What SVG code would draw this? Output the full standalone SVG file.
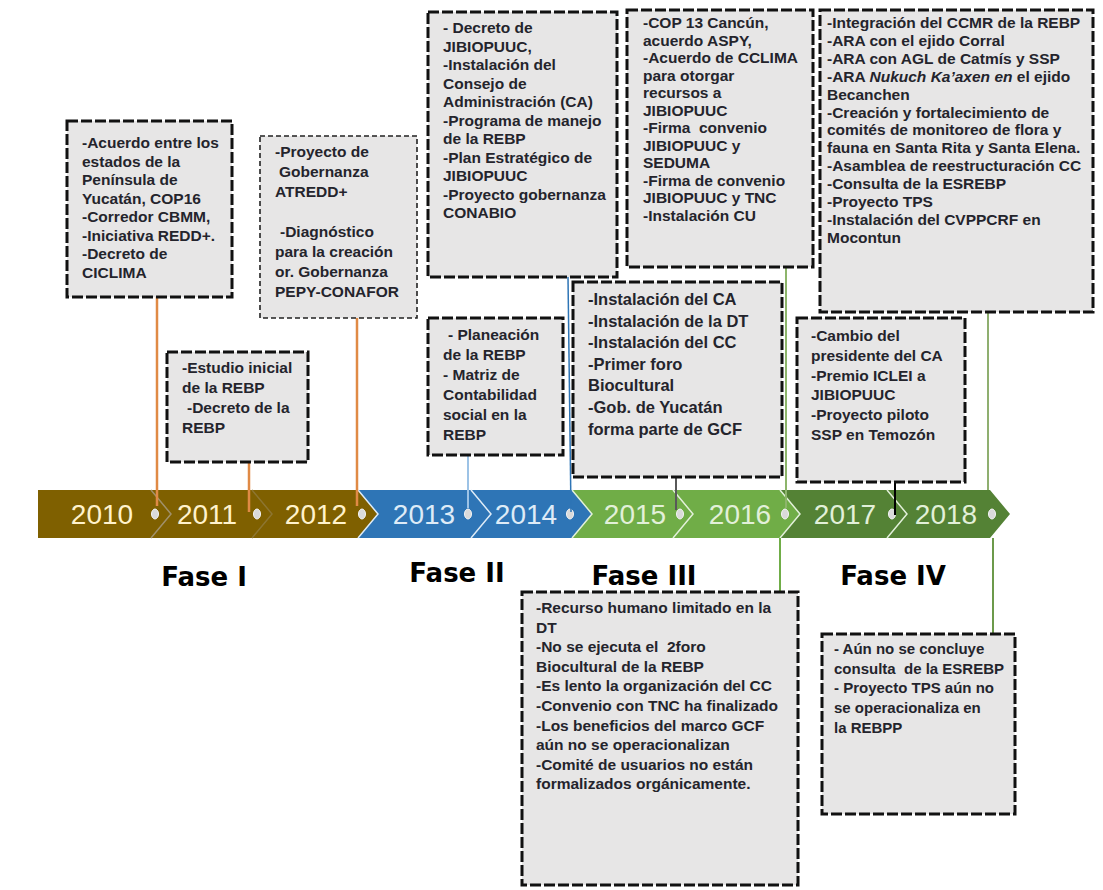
<svg xmlns="http://www.w3.org/2000/svg" width="1103" height="890" viewBox="0 0 1103 890">
<style>
.bx{fill:#E7E6E6;stroke:#111;stroke-width:3;stroke-dasharray:11 3}
.bx2{fill:#E7E6E6;stroke:#222;stroke-width:1.6;stroke-dasharray:5 3}
.t{font-family:"Liberation Sans",Arial,sans-serif;font-weight:bold;font-size:15.5px;fill:#24242c}
.yr{font-family:"Liberation Sans",Arial,sans-serif;font-size:28px;text-anchor:middle}
.fase{font-family:"DejaVu Sans",Verdana,sans-serif;font-weight:bold;font-size:26px;fill:#000;text-anchor:middle}
.dot{fill:#DADADA;stroke:#F5F5F5;stroke-width:1}
.sep{fill:none;stroke-width:1.5}
</style>
<rect width="1103" height="890" fill="#fff"/>

<g id="timeline">
  <polygon points="38,490 151,490 171,514 151,538 38,538" fill="#7F6000"/>
  <polygon points="151,490 252,490 272,514 252,538 151,538 171,514" fill="#7F6000"/>
  <polygon points="252,490 358,490 378,514 358,538 252,538 272,514" fill="#7F6000"/>
  <polygon points="358,490 471,490 491,514 471,538 358,538 378,514" fill="#2E75B6"/>
  <polygon points="471,490 572,490 592,514 572,538 471,538 491,514" fill="#2E75B6"/>
  <polygon points="572,490 673,490 693,514 673,538 572,538 592,514" fill="#70AD47"/>
  <polygon points="673,490 780,490 800,514 780,538 673,538 693,514" fill="#70AD47"/>
  <polygon points="780,490 887,490 907,514 887,538 780,538 800,514" fill="#548235"/>
  <polygon points="887,490 990,490 1010,514 990,538 887,538 907,514" fill="#548235"/>
  <polyline class="sep" points="151,490 171,514 151,538" stroke="#A0906A"/>
  <polyline class="sep" points="252,490 272,514 252,538" stroke="#8C7530"/>
  <polyline class="sep" points="358,490 378,514 358,538" stroke="#DDEBF7"/>
  <polyline class="sep" points="471,490 491,514 471,538" stroke="#DDEBF7"/>
  <polyline class="sep" points="572,490 592,514 572,538" stroke="#E2F0D9"/>
  <polyline class="sep" points="673,490 693,514 673,538" stroke="#E2F0D9"/>
  <polyline class="sep" points="780,490 800,514 780,538" stroke="#E2F0D9"/>
  <polyline class="sep" points="887,490 907,514 887,538" stroke="#E2F0D9"/>
  <text class="yr" x="102" y="524" fill="#FFF2CC">2010</text>
  <text class="yr" x="207" y="524" fill="#FFF2CC">2011</text>
  <text class="yr" x="316" y="524" fill="#FFF2CC">2012</text>
  <text class="yr" x="424" y="524" fill="#DEEBF7">2013</text>
  <text class="yr" x="526" y="524" fill="#DEEBF7">2014</text>
  <text class="yr" x="635" y="524" fill="#E2F0D9">2015</text>
  <text class="yr" x="740" y="524" fill="#E2F0D9">2016</text>
  <text class="yr" x="845" y="524" fill="#E2F0D9">2017</text>
  <text class="yr" x="946" y="524" fill="#E2F0D9">2018</text>
  <ellipse class="dot" cx="155" cy="514" rx="3.5" ry="5"/>
  <ellipse class="dot" cx="257" cy="514" rx="3.5" ry="5"/>
  <ellipse class="dot" cx="362" cy="514" rx="3.5" ry="5"/>
  <ellipse class="dot" cx="468" cy="514" rx="3.5" ry="5"/>
  <ellipse class="dot" cx="570" cy="514" rx="3.5" ry="5"/>
  <ellipse class="dot" cx="680" cy="514" rx="3.5" ry="5"/>
  <ellipse class="dot" cx="785" cy="514" rx="3.5" ry="5"/>
  <ellipse class="dot" cx="892" cy="514" rx="3.5" ry="5"/>
  <ellipse class="dot" cx="992" cy="514" rx="3.5" ry="5"/>
</g>

<g id="phases">
  <text class="fase" x="204" y="586">Fase I</text>
  <text class="fase" x="457" y="582">Fase II</text>
  <text class="fase" x="644" y="585">Fase III</text>
  <text class="fase" x="893" y="585">Fase IV</text>
</g>

<g id="connectors" fill="none">
  <line x1="157" y1="297" x2="157" y2="506" stroke="#E08A45" stroke-width="2.5"/>
  <line x1="249" y1="462" x2="249" y2="512" stroke="#E08A45" stroke-width="2.5"/>
  <line x1="357" y1="318" x2="357" y2="506" stroke="#E08A45" stroke-width="2.5"/>
  <line x1="468" y1="455" x2="468" y2="508" stroke="#9DC3E6" stroke-width="2"/>
  <line x1="568" y1="277" x2="571" y2="512" stroke="#2E75B6" stroke-width="1.5"/>
  <line x1="676" y1="477" x2="676" y2="510" stroke="#595959" stroke-width="2"/>
  <line x1="786" y1="267" x2="786" y2="508" stroke="#8DB56B" stroke-width="2"/>
  <line x1="780" y1="538" x2="780" y2="592" stroke="#70AD47" stroke-width="2"/>
  <line x1="895" y1="482" x2="895" y2="515" stroke="#000" stroke-width="2"/>
  <line x1="988" y1="312" x2="988" y2="490" stroke="#8FAF70" stroke-width="2"/>
  <line x1="993" y1="538" x2="993" y2="634" stroke="#6C9A4B" stroke-width="2"/>
</g>

<g id="box2010">
  <rect class="bx" x="67" y="121" width="165" height="176"/>
  <text class="t">
    <tspan x="82" y="148">-Acuerdo entre los</tspan>
    <tspan x="82" dy="18.5">estados de la</tspan>
    <tspan x="82" dy="18.5">Península de</tspan>
    <tspan x="82" dy="18.5">Yucatán, COP16</tspan>
    <tspan x="82" dy="18.5">-Corredor CBMM,</tspan>
    <tspan x="82" dy="18.5">-Iniciativa REDD+.</tspan>
    <tspan x="82" dy="18.5">-Decreto de</tspan>
    <tspan x="82" dy="18.5">CICLIMA</tspan>
  </text>
</g>

<g id="box2011">
  <rect class="bx" x="167" y="352" width="141" height="110"/>
  <text class="t">
    <tspan x="182" y="373">-Estudio inicial</tspan>
    <tspan x="182" dy="20">de la REBP</tspan>
    <tspan x="187" dy="20">-Decreto de la</tspan>
    <tspan x="182" dy="20">REBP</tspan>
  </text>
</g>

<g id="box2012">
  <rect class="bx2" x="260" y="136" width="157" height="182"/>
  <text class="t">
    <tspan x="275" y="157">-Proyecto de</tspan>
    <tspan x="279" dy="20">Gobernanza</tspan>
    <tspan x="275" dy="20">ATREDD+</tspan>
    <tspan x="280" dy="40">-Diagnóstico</tspan>
    <tspan x="275" dy="20">para la creación</tspan>
    <tspan x="275" dy="20">or. Gobernanza</tspan>
    <tspan x="275" dy="20">PEPY-CONAFOR</tspan>
  </text>
</g>

<g id="box2013">
  <rect class="bx" x="428" y="318" width="135" height="137"/>
  <text class="t">
    <tspan x="448" y="340">- Planeación</tspan>
    <tspan x="443" dy="20">de la REBP</tspan>
    <tspan x="443" dy="20">- Matriz de</tspan>
    <tspan x="443" dy="20">Contabilidad</tspan>
    <tspan x="443" dy="20">social en la</tspan>
    <tspan x="443" dy="20">REBP</tspan>
  </text>
</g>

<g id="box2014">
  <rect class="bx" x="428" y="12" width="189" height="265"/>
  <text class="t">
    <tspan x="443" y="33">- Decreto de</tspan>
    <tspan x="443" dy="18.5">JIBIOPUUC,</tspan>
    <tspan x="443" dy="18.5">-Instalación del</tspan>
    <tspan x="443" dy="18.5">Consejo de</tspan>
    <tspan x="443" dy="18.5">Administración (CA)</tspan>
    <tspan x="443" dy="18.5">-Programa de manejo</tspan>
    <tspan x="443" dy="18.5">de la REBP</tspan>
    <tspan x="443" dy="18.5">-Plan Estratégico de</tspan>
    <tspan x="443" dy="18.5">JIBIOPUUC</tspan>
    <tspan x="443" dy="18.5">-Proyecto gobernanza</tspan>
    <tspan x="443" dy="18.5">CONABIO</tspan>
  </text>
</g>

<g id="box2015top">
  <rect class="bx" x="627" y="10" width="186" height="257"/>
  <text class="t" xml:space="preserve"><tspan x="643" y="28">-COP 13 Cancún,</tspan><tspan x="643" dy="17.5">acuerdo ASPY,</tspan><tspan x="643" dy="17.5">-Acuerdo de CCLIMA</tspan><tspan x="643" dy="17.5">para otorgar</tspan><tspan x="643" dy="17.5">recursos a</tspan><tspan x="643" dy="17.5">JIBIOPUUC</tspan><tspan x="643" dy="17.5">-Firma  convenio</tspan><tspan x="643" dy="17.5">JIBIOPUUC y</tspan><tspan x="643" dy="17.5">SEDUMA</tspan><tspan x="643" dy="17.5">-Firma de convenio</tspan><tspan x="643" dy="17.5">JIBIOPUUC y TNC</tspan><tspan x="643" dy="17.5">-Instalación CU</tspan></text>
</g>

<g id="box2015">
  <rect class="bx" x="573" y="282" width="209" height="195"/>
  <text class="t" style="font-size:16.5px">
    <tspan x="588" y="305">-Instalación del CA</tspan>
    <tspan x="588" dy="21.6">-Instalación de la DT</tspan>
    <tspan x="588" dy="21.6">-Instalación del CC</tspan>
    <tspan x="588" dy="21.6">-Primer foro</tspan>
    <tspan x="588" dy="21.6">Biocultural</tspan>
    <tspan x="588" dy="21.6">-Gob. de Yucatán</tspan>
    <tspan x="588" dy="21.6">forma parte de GCF</tspan>
  </text>
</g>

<g id="box2018top">
  <rect class="bx" x="820" y="10" width="273" height="302"/>
  <text class="t">
    <tspan x="827" y="28">-Integración del CCMR de la REBP</tspan>
    <tspan x="827" dy="17.9">-ARA con el ejido Corral</tspan>
    <tspan x="827" dy="17.9">-ARA con AGL de Catmís y SSP</tspan>
    <tspan x="827" dy="17.9">-ARA <tspan font-style="italic">Nukuch Ka’axen en</tspan> el ejido</tspan>
    <tspan x="827" dy="17.9">Becanchen</tspan>
    <tspan x="827" dy="17.9">-Creación y fortalecimiento de</tspan>
    <tspan x="827" dy="17.9">comités de monitoreo de flora y</tspan>
    <tspan x="827" dy="17.9">fauna en Santa Rita y Santa Elena.</tspan>
    <tspan x="827" dy="17.9">-Asamblea de reestructuración CC</tspan>
    <tspan x="827" dy="17.9">-Consulta de la ESREBP</tspan>
    <tspan x="827" dy="17.9">-Proyecto TPS</tspan>
    <tspan x="827" dy="17.9">-Instalación del CVPPCRF en</tspan>
    <tspan x="827" dy="17.9">Mocontun</tspan>
  </text>
</g>

<g id="box2017">
  <rect class="bx" x="797" y="318" width="168" height="164"/>
  <text class="t">
    <tspan x="811" y="341">-Cambio del</tspan>
    <tspan x="811" dy="19.8">presidente del CA</tspan>
    <tspan x="811" dy="19.8">-Premio ICLEI a</tspan>
    <tspan x="811" dy="19.8">JIBIOPUUC</tspan>
    <tspan x="811" dy="19.8">-Proyecto piloto</tspan>
    <tspan x="811" dy="19.8">SSP en Temozón</tspan>
  </text>
</g>

<g id="boxFaseIII">
  <rect class="bx" x="522" y="592" width="276" height="293"/>
  <text class="t" xml:space="preserve"><tspan x="536" y="613">-Recurso humano limitado en la</tspan><tspan x="536" dy="19.6">DT</tspan><tspan x="536" dy="19.6">-No se ejecuta el  2foro</tspan><tspan x="536" dy="19.6">Biocultural de la REBP</tspan><tspan x="536" dy="19.6">-Es lento la organización del CC</tspan><tspan x="536" dy="19.6">-Convenio con TNC ha finalizado</tspan><tspan x="536" dy="19.6">-Los beneficios del marco GCF</tspan><tspan x="536" dy="19.6">aún no se operacionalizan</tspan><tspan x="536" dy="19.6">-Comité de usuarios no están</tspan><tspan x="536" dy="19.6">formalizados orgánicamente.</tspan></text>
</g>

<g id="boxFaseIV">
  <rect class="bx" x="822" y="634" width="193" height="180"/>
  <text class="t" style="font-size:15px" xml:space="preserve"><tspan x="834" y="654">- Aún no se concluye</tspan><tspan x="834" dy="19.7">consulta  de la ESREBP</tspan><tspan x="834" dy="19.7">- Proyecto TPS aún no</tspan><tspan x="834" dy="19.7">se operacionaliza en</tspan><tspan x="834" dy="19.7">la REBPP</tspan></text>
</g>
</svg>
